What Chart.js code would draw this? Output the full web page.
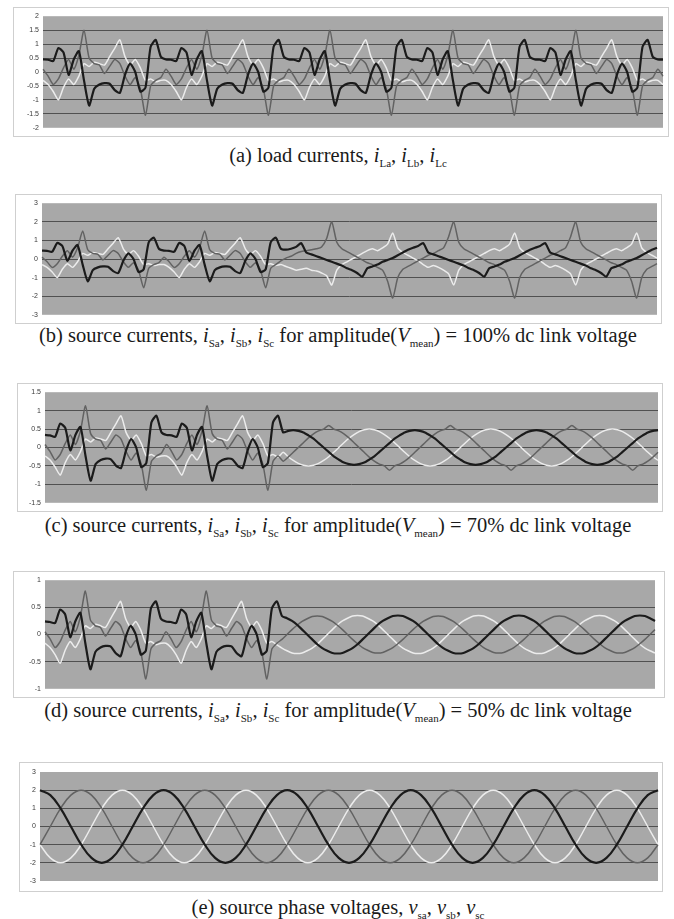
<!DOCTYPE html>
<html>
<head>
<meta charset="utf-8">
<title>Load and source current waveforms</title>
<script src="https://cdn.jsdelivr.net/npm/chart.js"></script>
<style>
  body { margin: 0; background: #fff; }
  #page { position: relative; width: 674px; height: 919px; overflow: hidden; }
  .panel { position: absolute; border: 1px solid #cfcfcf; box-sizing: border-box; background: #fff; }
  .panel canvas { position: absolute; left: 0; top: 0; }
  .caption {
    position: absolute; left: 0; width: 676px; text-align: center;
    font-family: "Liberation Serif", "Times New Roman", serif;
    font-size: 20.5px; line-height: 22px; color: #1a1a1a; white-space: nowrap;
  }
  .caption sub { font-size: 11px; line-height: 0; }
</style>
</head>
<body>
<div id="page"></div>

<script>
  // y-axis tick labels for each panel
  const aTicks = [2, 1.5, 1, 0.5, 0, -0.5, -1, -1.5, -2];
  const bTicks = [3, 2, 1, 0, -1, -2, -3];
  const cTicks = [1.5, 1, 0.5, 0, -0.5, -1, -1.5];
  const dTicks = [1, 0.5, 0, -0.5, -1];
  const eTicks = [3, 2, 1, 0, -1, -2, -3];

  // (a) load currents, one row per mains cycle
  const aDark = [
    0.45, 0.44, 0.39, 0.86, 0.70, -0.10, 0.45, 0.75, -0.30, -1.20, -0.60, -0.45, -0.40, -0.42, -0.65, -0.75, -0.10, 0.30, 0.00, -0.70, -0.56, 0.90, 1.15, 0.55,
    0.45, 0.44, 0.39, 0.86, 0.70, -0.10, 0.45, 0.75, -0.30, -1.20, -0.60, -0.45, -0.40, -0.42, -0.65, -0.75, -0.10, 0.30, 0.00, -0.70, -0.56, 0.90, 1.15, 0.55,
    0.45, 0.44, 0.39, 0.86, 0.70, -0.10, 0.45, 0.75, -0.30, -1.20, -0.60, -0.45, -0.40, -0.42, -0.65, -0.75, -0.10, 0.30, 0.00, -0.70, -0.56, 0.90, 1.15, 0.55,
    0.45, 0.44, 0.39, 0.86, 0.70, -0.10, 0.45, 0.75, -0.30, -1.20, -0.60, -0.45, -0.40, -0.42, -0.65, -0.75, -0.10, 0.30, 0.00, -0.70, -0.56, 0.90, 1.15, 0.55,
    0.45, 0.44, 0.39, 0.86, 0.70, -0.10, 0.45, 0.75, -0.30, -1.20, -0.60, -0.45, -0.40, -0.42, -0.65, -0.75, -0.10, 0.30, 0.00, -0.70, -0.56, 0.90, 1.15, 0.55,
    0.45, 0.44
  ];
  const aGray = [
    0.10, -0.15, -0.45, -0.25, 0.15, 0.45, 0.10, 0.60, 1.50, 0.50, 0.30, 0.25, -0.05, 0.20, 0.45, 0.30, -0.15, -0.45, -0.20, -0.60, -1.55, -0.50, -0.30, -0.20,
    0.10, -0.15, -0.45, -0.25, 0.15, 0.45, 0.10, 0.60, 1.50, 0.50, 0.30, 0.25, -0.05, 0.20, 0.45, 0.30, -0.15, -0.45, -0.20, -0.60, -1.55, -0.50, -0.30, -0.20,
    0.10, -0.15, -0.45, -0.25, 0.15, 0.45, 0.10, 0.60, 1.50, 0.50, 0.30, 0.25, -0.05, 0.20, 0.45, 0.30, -0.15, -0.45, -0.20, -0.60, -1.55, -0.50, -0.30, -0.20,
    0.10, -0.15, -0.45, -0.25, 0.15, 0.45, 0.10, 0.60, 1.50, 0.50, 0.30, 0.25, -0.05, 0.20, 0.45, 0.30, -0.15, -0.45, -0.20, -0.60, -1.55, -0.50, -0.30, -0.20,
    0.10, -0.15, -0.45, -0.25, 0.15, 0.45, 0.10, 0.60, 1.50, 0.50, 0.30, 0.25, -0.05, 0.20, 0.45, 0.30, -0.15, -0.45, -0.20, -0.60, -1.55, -0.50, -0.30, -0.20,
    0.10, -0.15
  ];
  const aLight = [
    -0.30, -0.45, -0.70, -1.00, -0.55, -0.25, -0.45, -0.15, 0.30, 0.20, 0.35, 0.30, 0.25, 0.55, 0.85, 1.15, 0.55, 0.25, 0.45, 0.15, -0.30, -0.25, -0.35, -0.30,
    -0.30, -0.45, -0.70, -1.00, -0.55, -0.25, -0.45, -0.15, 0.30, 0.20, 0.35, 0.30, 0.25, 0.55, 0.85, 1.15, 0.55, 0.25, 0.45, 0.15, -0.30, -0.25, -0.35, -0.30,
    -0.30, -0.45, -0.70, -1.00, -0.55, -0.25, -0.45, -0.15, 0.30, 0.20, 0.35, 0.30, 0.25, 0.55, 0.85, 1.15, 0.55, 0.25, 0.45, 0.15, -0.30, -0.25, -0.35, -0.30,
    -0.30, -0.45, -0.70, -1.00, -0.55, -0.25, -0.45, -0.15, 0.30, 0.20, 0.35, 0.30, 0.25, 0.55, 0.85, 1.15, 0.55, 0.25, 0.45, 0.15, -0.30, -0.25, -0.35, -0.30,
    -0.30, -0.45, -0.70, -1.00, -0.55, -0.25, -0.45, -0.15, 0.30, 0.20, 0.35, 0.30, 0.25, 0.55, 0.85, 1.15, 0.55, 0.25, 0.45, 0.15, -0.30, -0.25, -0.35, -0.30,
    -0.30, -0.45
  ];

  // (b) source currents, 100% dc link voltage (filter switched in after two cycles)
  const bDark = [
    0.45, 0.44, 0.39, 0.86, 0.70, -0.10, 0.45, 0.75, -0.30, -1.20, -0.60, -0.45, -0.40, -0.42, -0.65, -0.75, -0.10, 0.30, 0.00, -0.70, -0.56, 0.90, 1.15, 0.55,
    0.45, 0.44, 0.39, 0.86, 0.70, -0.10, 0.45, 0.75, -0.30, -1.20, -0.60, -0.45, -0.40, -0.42, -0.65, -0.75, -0.10, 0.30, 0.00, -0.70, -0.56, 0.90, 1.15,
    0.55, 0.50, 0.55, 0.65, 0.85,
    0.35, 0.25, 0.15, 0.05, -0.05, -0.15, -0.25, -0.35, -0.50, -0.60, -0.75, -0.95, -0.50, -0.40, -0.30, -0.15, -0.05, 0.05, 0.20, 0.35, 0.50, 0.60, 0.70, 0.85,
    0.35, 0.25, 0.15, 0.05, -0.05, -0.15, -0.25, -0.35, -0.50, -0.60, -0.75, -0.95, -0.50, -0.40, -0.30, -0.15, -0.05, 0.05, 0.20, 0.35, 0.50, 0.60, 0.70, 0.85,
    0.35, 0.25, 0.15, 0.05, -0.05, -0.15, -0.25, -0.35, -0.50, -0.60, -0.75, -0.95, -0.50, -0.40, -0.30, -0.15, -0.05, 0.05, 0.20, 0.35, 0.50, 0.60
  ];
  const bGray = [
    0.10, -0.15, -0.45, -0.25, 0.15, 0.45, 0.10, 0.60, 1.50, 0.50, 0.30, 0.25, -0.05, 0.20, 0.45, 0.30, -0.15, -0.45, -0.20, -0.60, -1.55, -0.50, -0.30, -0.20,
    0.10, -0.15, -0.45, -0.25, 0.15, 0.45, 0.10, 0.60, 1.50, 0.50, 0.30, 0.25, -0.05, 0.20, 0.45, 0.30, -0.15, -0.45, -0.20, -0.60, -1.55, -0.50, -0.30,
    -0.10, 0.05, 0.15, 0.30, 0.40, 0.45, 0.50, 0.55, 0.65, 1.10,
    2.00, 0.90, 0.55, 0.40, 0.25, 0.10, -0.05, -0.20, -0.30, -0.45, -0.60, -1.20, -2.10, -1.00, -0.55, -0.40, -0.25, -0.10, 0.05, 0.20, 0.30, 0.45, 0.60, 1.20,
    2.00, 0.90, 0.55, 0.40, 0.25, 0.10, -0.05, -0.20, -0.30, -0.45, -0.60, -1.20, -2.10, -1.00, -0.55, -0.40, -0.25, -0.10, 0.05, 0.20, 0.30, 0.45, 0.60, 1.20,
    2.00, 0.90, 0.55, 0.40, 0.25, 0.10, -0.05, -0.20, -0.30, -0.45, -0.60, -1.20, -2.10, -1.00, -0.55, -0.40, -0.25
  ];
  const bLight = [
    -0.30, -0.45, -0.70, -1.00, -0.55, -0.25, -0.45, -0.15, 0.30, 0.20, 0.35, 0.30, 0.25, 0.55, 0.85, 1.15, 0.55, 0.25, 0.45, 0.15, -0.30, -0.25, -0.35, -0.30,
    -0.30, -0.45, -0.70, -1.00, -0.55, -0.25, -0.45, -0.15, 0.30, 0.20, 0.35, 0.30, 0.25, 0.55, 0.85, 1.15, 0.55, 0.25, 0.45, 0.15, -0.30, -0.25, -0.35,
    -0.30, -0.40, -0.50, -0.60, -0.55, -0.50, -0.60, -0.65, -0.75, -0.90,
    -1.40, -0.60, -0.30, -0.15, 0.00, 0.15, 0.30, 0.45, 0.55, 0.45, 0.60, 0.80, 1.40, 0.60, 0.35, 0.20, 0.05, -0.10, -0.30, -0.45, -0.35, -0.45, -0.60, -0.80,
    -1.40, -0.60, -0.30, -0.15, 0.00, 0.15, 0.30, 0.45, 0.55, 0.45, 0.60, 0.80, 1.40, 0.60, 0.35, 0.20, 0.05, -0.10, -0.30, -0.45, -0.35, -0.45, -0.60, -0.80,
    -1.40, -0.60, -0.30, -0.15, 0.00, 0.15, 0.30, 0.45, 0.55, 0.45, 0.60, 0.80, 1.40, 0.60, 0.35, 0.20, 0.05
  ];

  // (c) source currents, 70% dc link voltage
  const cDark = [
    0.34, 0.33, 0.29, 0.65, 0.53, -0.08, 0.34, 0.56, -0.23, -0.90, -0.45, -0.34, -0.30, -0.32, -0.49, -0.56, -0.08, 0.23, 0.00, -0.53, -0.42, 0.68, 0.86, 0.41,
    0.34, 0.33, 0.29, 0.65, 0.53, -0.08, 0.34, 0.56, -0.23, -0.90, -0.45, -0.34, -0.30, -0.32, -0.49, -0.56, -0.08, 0.23, 0.00, -0.53, -0.42, 0.68, 0.86,
    0.41, 0.45, 0.47, 0.45, 0.41, 0.33, 0.24, 0.12, 0.00, -0.12, -0.24, -0.33, -0.41, -0.45, -0.47, -0.45, -0.41, -0.33, -0.24, -0.12, 0.00, 0.12, 0.24, 0.33,
    0.41, 0.45, 0.47, 0.45, 0.41, 0.33, 0.24, 0.12, 0.00, -0.12, -0.24, -0.33, -0.41, -0.45, -0.47, -0.45, -0.41, -0.33, -0.24, -0.12, 0.00, 0.12, 0.24, 0.33,
    0.41, 0.45, 0.47, 0.45, 0.41, 0.33, 0.24, 0.12, 0.00, -0.12, -0.24, -0.33, -0.41, -0.45, -0.47, -0.45, -0.41, -0.33, -0.24, -0.12, 0.00, 0.12, 0.24, 0.33,
    0.41, 0.45, 0.47
  ];
  const cGray = [
    0.08, -0.11, -0.34, -0.19, 0.11, 0.34, 0.08, 0.45, 1.13, 0.38, 0.23, 0.19, -0.04, 0.15, 0.34, 0.23, -0.11, -0.34, -0.15, -0.45, -1.16, -0.38, -0.23, -0.15,
    0.08, -0.11, -0.34, -0.19, 0.11, 0.34, 0.08, 0.45, 1.13, 0.38, 0.23, 0.19, -0.04, 0.15, 0.34, 0.23, -0.11, -0.34, -0.15, -0.45, -1.16, -0.38, -0.23,
    -0.37, -0.26, -0.13, 0.00, 0.13, 0.26, 0.37, 0.45, 0.50, 0.60, 0.50, 0.45, 0.37, 0.26, 0.13, 0.00, -0.13, -0.26, -0.37, -0.45, -0.50, -0.62, -0.50, -0.45,
    -0.37, -0.26, -0.13, 0.00, 0.13, 0.26, 0.37, 0.45, 0.50, 0.60, 0.50, 0.45, 0.37, 0.26, 0.13, 0.00, -0.13, -0.26, -0.37, -0.45, -0.50, -0.62, -0.50, -0.45,
    -0.37, -0.26, -0.13, 0.00, 0.13, 0.26, 0.37, 0.45, 0.50, 0.60, 0.50, 0.45, 0.37, 0.26, 0.13, 0.00, -0.13, -0.26, -0.37, -0.45, -0.50, -0.62, -0.50, -0.45,
    -0.37, -0.26, -0.13
  ];
  const cLight = [
    -0.23, -0.34, -0.53, -0.75, -0.41, -0.19, -0.34, -0.11, 0.23, 0.15, 0.26, 0.23, 0.19, 0.41, 0.64, 0.86, 0.41, 0.19, 0.34, 0.11, -0.23, -0.19, -0.26, -0.23,
    -0.23, -0.34, -0.53, -0.75, -0.41, -0.19, -0.34, -0.11, 0.23, 0.15, 0.26, 0.23, 0.19, 0.41, 0.64, 0.86, 0.41, 0.19, 0.34, 0.11, -0.23, -0.19, -0.26,
    -0.13, -0.25, -0.35, -0.43, -0.48, -0.50, -0.48, -0.43, -0.35, -0.25, -0.13, 0.00, 0.13, 0.25, 0.35, 0.43, 0.48, 0.50, 0.48, 0.43, 0.35, 0.25, 0.13, 0.00,
    -0.13, -0.25, -0.35, -0.43, -0.48, -0.50, -0.48, -0.43, -0.35, -0.25, -0.13, 0.00, 0.13, 0.25, 0.35, 0.43, 0.48, 0.50, 0.48, 0.43, 0.35, 0.25, 0.13, 0.00,
    -0.13, -0.25, -0.35, -0.43, -0.48, -0.50, -0.48, -0.43, -0.35, -0.25, -0.13, 0.00, 0.13, 0.25, 0.35, 0.43, 0.48, 0.50, 0.48, 0.43, 0.35, 0.25, 0.13, 0.00,
    -0.13, -0.25, -0.35
  ];

  // (d) source currents, 50% dc link voltage
  const dDark = [
    0.24, 0.23, 0.21, 0.46, 0.37, -0.05, 0.24, 0.40, -0.16, -0.64, -0.32, -0.24, -0.21, -0.22, -0.34, -0.40, -0.05, 0.16, 0.00, -0.37, -0.30, 0.48, 0.61, 0.29,
    0.24, 0.23, 0.21, 0.46, 0.37, -0.05, 0.24, 0.40, -0.16, -0.64, -0.32, -0.24, -0.21, -0.22, -0.34, -0.40, -0.05, 0.16, 0.00, -0.37, -0.30, 0.48, 0.61,
    0.34, 0.30, 0.25, 0.18, 0.09, 0.00, -0.09, -0.18, -0.25, -0.30, -0.34, -0.35, -0.34, -0.30, -0.25, -0.18, -0.09, 0.00, 0.09, 0.18, 0.25, 0.30, 0.34, 0.35,
    0.34, 0.30, 0.25, 0.18, 0.09, 0.00, -0.09, -0.18, -0.25, -0.30, -0.34, -0.35, -0.34, -0.30, -0.25, -0.18, -0.09, 0.00, 0.09, 0.18, 0.25, 0.30, 0.34, 0.35,
    0.34, 0.30, 0.25, 0.18, 0.09, 0.00, -0.09, -0.18, -0.25, -0.30, -0.34, -0.35, -0.34, -0.30, -0.25, -0.18, -0.09, 0.00, 0.09, 0.18, 0.25, 0.30, 0.34, 0.35,
    0.34, 0.30, 0.25
  ];
  const dGray = [
    0.05, -0.08, -0.24, -0.13, 0.08, 0.24, 0.05, 0.32, 0.80, 0.27, 0.16, 0.13, -0.03, 0.11, 0.24, 0.16, -0.08, -0.24, -0.11, -0.32, -0.82, -0.27, -0.16, -0.11,
    0.05, -0.08, -0.24, -0.13, 0.08, 0.24, 0.05, 0.32, 0.80, 0.27, 0.16, 0.13, -0.03, 0.11, 0.24, 0.16, -0.08, -0.24, -0.11, -0.32, -0.82, -0.27, -0.16,
    -0.09, 0.00, 0.09, 0.17, 0.24, 0.29, 0.33, 0.34, 0.33, 0.29, 0.24, 0.17, 0.09, 0.00, -0.09, -0.17, -0.24, -0.29, -0.33, -0.34, -0.33, -0.29, -0.24, -0.17,
    -0.09, 0.00, 0.09, 0.17, 0.24, 0.29, 0.33, 0.34, 0.33, 0.29, 0.24, 0.17, 0.09, 0.00, -0.09, -0.17, -0.24, -0.29, -0.33, -0.34, -0.33, -0.29, -0.24, -0.17,
    -0.09, 0.00, 0.09, 0.17, 0.24, 0.29, 0.33, 0.34, 0.33, 0.29, 0.24, 0.17, 0.09, 0.00, -0.09, -0.17, -0.24, -0.29, -0.33, -0.34, -0.33, -0.29, -0.24, -0.17,
    -0.09, 0.00, 0.09
  ];
  const dLight = [
    -0.16, -0.24, -0.37, -0.53, -0.29, -0.13, -0.24, -0.08, 0.16, 0.11, 0.19, 0.16, 0.13, 0.29, 0.45, 0.61, 0.29, 0.13, 0.24, 0.08, -0.16, -0.13, -0.19, -0.16,
    -0.16, -0.24, -0.37, -0.53, -0.29, -0.13, -0.24, -0.08, 0.16, 0.11, 0.19, 0.16, 0.13, 0.29, 0.45, 0.61, 0.29, 0.13, 0.24, 0.08, -0.16, -0.13, -0.19,
    -0.25, -0.30, -0.34, -0.35, -0.34, -0.30, -0.25, -0.18, -0.09, 0.00, 0.09, 0.18, 0.25, 0.30, 0.34, 0.35, 0.34, 0.30, 0.25, 0.18, 0.09, 0.00, -0.09, -0.18,
    -0.25, -0.30, -0.34, -0.35, -0.34, -0.30, -0.25, -0.18, -0.09, 0.00, 0.09, 0.18, 0.25, 0.30, 0.34, 0.35, 0.34, 0.30, 0.25, 0.18, 0.09, 0.00, -0.09, -0.18,
    -0.25, -0.30, -0.34, -0.35, -0.34, -0.30, -0.25, -0.18, -0.09, 0.00, 0.09, 0.18, 0.25, 0.30, 0.34, 0.35, 0.34, 0.30, 0.25, 0.18, 0.09, 0.00, -0.09, -0.18,
    -0.25, -0.30, -0.34
  ];

  // (e) source phase voltages, twelve samples per cycle
  const eDark = [
    2.00, 1.73, 1.00, 0.00, -1.00, -1.73, -2.00, -1.73, -1.00, 0.00, 1.00, 1.73,
    2.00, 1.73, 1.00, 0.00, -1.00, -1.73, -2.00, -1.73, -1.00, 0.00, 1.00, 1.73,
    2.00, 1.73, 1.00, 0.00, -1.00, -1.73, -2.00, -1.73, -1.00, 0.00, 1.00, 1.73,
    2.00, 1.73, 1.00, 0.00, -1.00, -1.73, -2.00, -1.73, -1.00, 0.00, 1.00, 1.73,
    2.00, 1.73, 1.00, 0.00, -1.00, -1.73, -2.00, -1.73, -1.00, 0.00, 1.00, 1.73,
    2.00
  ];
  const eGray = [
    -1.00, 0.00, 1.00, 1.73, 2.00, 1.73, 1.00, 0.00, -1.00, -1.73, -2.00, -1.73,
    -1.00, 0.00, 1.00, 1.73, 2.00, 1.73, 1.00, 0.00, -1.00, -1.73, -2.00, -1.73,
    -1.00, 0.00, 1.00, 1.73, 2.00, 1.73, 1.00, 0.00, -1.00, -1.73, -2.00, -1.73,
    -1.00, 0.00, 1.00, 1.73, 2.00, 1.73, 1.00, 0.00, -1.00, -1.73, -2.00, -1.73,
    -1.00, 0.00, 1.00, 1.73, 2.00, 1.73, 1.00, 0.00, -1.00, -1.73, -2.00, -1.73,
    -1.00
  ];
  const eLight = [
    -1.00, -1.73, -2.00, -1.73, -1.00, 0.00, 1.00, 1.73, 2.00, 1.73, 1.00, 0.00,
    -1.00, -1.73, -2.00, -1.73, -1.00, 0.00, 1.00, 1.73, 2.00, 1.73, 1.00, 0.00,
    -1.00, -1.73, -2.00, -1.73, -1.00, 0.00, 1.00, 1.73, 2.00, 1.73, 1.00, 0.00,
    -1.00, -1.73, -2.00, -1.73, -1.00, 0.00, 1.00, 1.73, 2.00, 1.73, 1.00, 0.00,
    -1.00, -1.73, -2.00, -1.73, -1.00, 0.00, 1.00, 1.73, 2.00, 1.73, 1.00, 0.00,
    -1.00
  ];

  const captions = [
    '(a) load currents, <i>i</i><sub>La</sub>, <i>i</i><sub>Lb</sub>, <i>i</i><sub>Lc</sub>',
    '(b) source currents, <i>i</i><sub>Sa</sub>, <i>i</i><sub>Sb</sub>, <i>i</i><sub>Sc</sub> for amplitude(<i>V</i><sub>mean</sub>) = 100% dc link voltage',
    '(c) source currents, <i>i</i><sub>Sa</sub>, <i>i</i><sub>Sb</sub>, <i>i</i><sub>Sc</sub> for amplitude(<i>V</i><sub>mean</sub>) = 70% dc link voltage',
    '(d) source currents, <i>i</i><sub>Sa</sub>, <i>i</i><sub>Sb</sub>, <i>i</i><sub>Sc</sub> for amplitude(<i>V</i><sub>mean</sub>) = 50% dc link voltage',
    '(e) source phase voltages, <i>v</i><sub>sa</sub>, <i>v</i><sub>sb</sub>, <i>v</i><sub>sc</sub>'
  ];

  // frame box and plot area (left, top, right, bottom) in page pixels
  const panels = [
    { box: [13, 7, 669, 137],   plot: [43, 15, 663, 128],  ticks: aTicks, series: [aDark, aGray, aLight], captionTop: 144, smooth: 0.2 },
    { box: [15, 194, 662, 324], plot: [42, 202, 657, 317], ticks: bTicks, series: [bDark, bGray, bLight], captionTop: 324, smooth: 0.2 },
    { box: [17, 383, 663, 512], plot: [45, 392, 658, 503], ticks: cTicks, series: [cDark, cGray, cLight], captionTop: 514, smooth: 0.2 },
    { box: [13, 571, 665, 698], plot: [45, 577, 655, 689], ticks: dTicks, series: [dDark, dGray, dLight], captionTop: 699, smooth: 0.2 },
    { box: [19, 762, 663, 892], plot: [40, 772, 658, 881], ticks: eTicks, series: [eDark, eGray, eLight], captionTop: 896, smooth: 0.4 }
  ];

  const lineStyles = [
    { color: '#1b1b1b', width: 2.2 },
    { color: '#626262', width: 1.5 },
    { color: '#ececec', width: 1.5 }
  ];

  // grey plot background, painted before the grid
  const plotBg = {
    id: 'plotBg',
    beforeDraw(chart) {
      const { ctx, chartArea: a } = chart;
      ctx.save();
      ctx.fillStyle = '#a8a8a8';
      ctx.fillRect(a.left, a.top, a.right - a.left, a.bottom - a.top);
      ctx.restore();
    }
  };

  const page = document.getElementById('page');

  panels.forEach((p, n) => {
    const [L, T, R, B] = p.box;
    const [pl, pt, pr, pb] = p.plot;
    const w = R - L - 2, h = B - T - 2;
    const ox = L + 1, oy = T + 1;

    const wrap = document.createElement('div');
    wrap.className = 'panel';
    wrap.style.left = L + 'px';
    wrap.style.top = T + 'px';
    wrap.style.width = (R - L) + 'px';
    wrap.style.height = (B - T) + 'px';
    const canvas = document.createElement('canvas');
    canvas.width = w;
    canvas.height = h;
    canvas.style.width = w + 'px';
    canvas.style.height = h + 'px';
    wrap.appendChild(canvas);
    page.appendChild(wrap);

    const cap = document.createElement('div');
    cap.className = 'caption';
    cap.style.top = p.captionTop + 'px';
    cap.innerHTML = captions[n];
    page.appendChild(cap);

    const tickMax = Math.max(...p.ticks);
    const tickMin = Math.min(...p.ticks);
    const step = p.ticks[0] - p.ticks[1];
    const last = p.ticks.length - 1;

    new Chart(canvas, {
      type: 'line',
      data: {
        labels: p.series[0].map((_, i) => i),
        datasets: p.series.map((values, k) => ({
          data: values,
          borderColor: lineStyles[k].color,
          borderWidth: lineStyles[k].width,
          pointRadius: 0,
          tension: p.smooth,
          fill: false
        }))
      },
      options: {
        responsive: false,
        animation: false,
        layout: { padding: { left: 0, top: pt - oy, right: ox + w - pr, bottom: oy + h - pb } },
        plugins: { legend: { display: false }, tooltip: { enabled: false } },
        scales: {
          x: { display: false },
          y: {
            min: tickMin,
            max: tickMax,
            afterFit: scale => { scale.width = pl - ox; },
            ticks: {
              stepSize: step,
              color: '#3a3a3a',
              padding: 4,
              font: { family: 'Liberation Sans, Arial, sans-serif', size: 7 },
              callback: v => String(Math.round(v * 100) / 100)
            },
            grid: {
              drawTicks: false,
              lineWidth: 1,
              color: ctx => (ctx.index === 0 || ctx.index === last) ? 'rgba(0,0,0,0)' : '#505050'
            },
            border: { display: false }
          }
        }
      },
      plugins: [plotBg]
    });
  });
</script>
</body>
</html>
